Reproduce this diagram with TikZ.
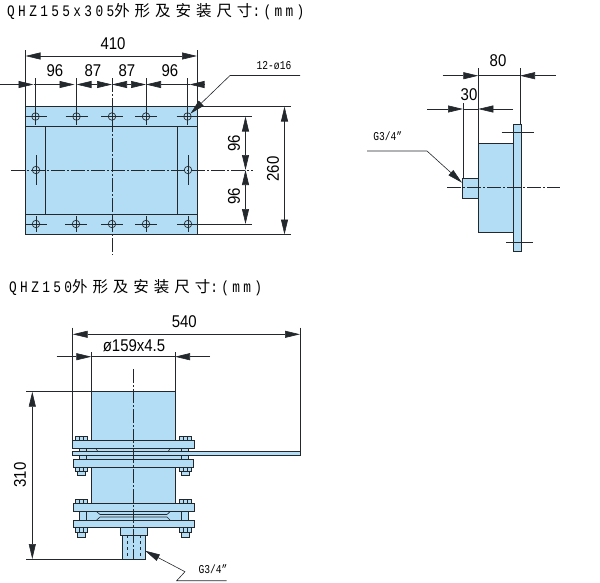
\documentclass[tikz,border=0pt]{standalone}
\usepackage{fontspec}
\setmainfont[FakeStretch=0.88]{Liberation Sans}
\newfontfamily\titlelatin[LetterSpace=21,FakeStretch=0.8]{Liberation Mono}
\newfontfamily\titlecjk[LetterSpace=32]{Noto Sans CJK SC}
\newfontfamily\smallmono[FakeStretch=0.8]{Liberation Mono}
\usetikzlibrary{arrows.meta}

\definecolor{bodyblue}{RGB}{179,221,245}
\definecolor{inkgray}{RGB}{35,40,45}

\tikzset{
  part/.style={draw=inkgray, fill=bodyblue, line width=.9pt},
  thin line/.style={draw=inkgray, line width=.6pt},
  center line/.style={draw=inkgray, line width=.6pt, dash pattern=on 14pt off 2pt on 2pt off 2pt},
  dim/.style={draw=inkgray, line width=.6pt, {Triangle[length=15pt,width=7pt]}-{Triangle[length=15pt,width=7pt]}},
  dim end/.style={draw=inkgray, line width=.6pt, -{Triangle[length=15pt,width=7pt]}},
  hole/.style={circle, draw=inkgray, line width=.7pt, minimum size=7.5pt, inner sep=0pt},
  size/.style={font=\fontsize{17}{17}\selectfont, text=black, inner sep=0pt},
  note/.style={font=\smallmono\fontsize{12}{12}\selectfont, text=black, inner sep=0pt},
  heading/.style={anchor=west, text=black, inner sep=0pt}
}

\newcommand{\headtext}[1]{\titlelatin\fontsize{16}{16}\selectfont #1\titlecjk\fontsize{15.5}{16}\selectfont 外形及安装尺寸\titlelatin\fontsize{16}{16}\selectfont:(mm)}

\begin{document}
\begin{tikzpicture}[x=1pt, y=-1pt]
  \useasboundingbox (0,0) rectangle (600,582);

  % headings
  \node[heading] (title1) at (7,12) {\headtext{QHZ155x305}};
  \node[heading] (title2) at (9,288) {\headtext{QHZ150}};

  % front view
  \draw[part] (25.5,106.5) rectangle (197.5,234.5);
  \draw[part, fill=none] (25.5,126) -- (197.5,126);
  \draw[part, fill=none] (25.5,214.5) -- (197.5,214.5);
  \draw[part, fill=none] (45,126) -- (45,214.5);
  \draw[part, fill=none] (177.5,126) -- (177.5,214.5);
  \draw[center line] (11,170) -- (253,170);
  \draw[center line] (112,78) -- (112,255);

  \begin{scope}[every node/.style={hole}]
    \node (h1)  at (35.5,116.5) {};
    \node (h2)  at (76.5,116.5) {};
    \node (h3)  at (112,116.5) {};
    \node (h4)  at (146,116.5) {};
    \node (h5)  at (187.5,116.5) {};
    \node (h6)  at (36,170) {};
    \node (h7)  at (188,170) {};
    \node (h8)  at (36,224) {};
    \node (h9)  at (76,224) {};
    \node (h10) at (112,224) {};
    \node (h11) at (146,224) {};
    \node (h12) at (188,224) {};
  \end{scope}
  \foreach \n in {h1,h2,h3,h4,h5,h8,h9,h10,h11,h12} {
    \draw[thin line] ([xshift=-11pt]\n.center) -- ([xshift=11pt]\n.center);
    \draw[thin line] ([yshift=8pt]\n.center) -- ([yshift=-8pt]\n.center);
  }
  \foreach \n in {h6,h7} {
    \draw[thin line] ([yshift=15pt]\n.center) -- ([yshift=-15pt]\n.center);
  }

  % front view, extension lines
  \draw[thin line] (25.5,50) -- (25.5,106.5);
  \draw[thin line] (197,50) -- (197,106.5);
  \draw[thin line] (h1.north) -- (35.5,78);
  \draw[thin line] (h2.north) -- (76.5,78);
  \draw[thin line] (h4.north) -- (146,78);
  \draw[thin line] (h5.north) -- (187.5,78);
  \draw[thin line] (197.5,106.5) -- (291,106.5);
  \draw[thin line] (197.5,234.5) -- (291,234.5);
  \draw[thin line] (h5.east) -- (252,116.5);
  \draw[thin line] (h12.east) -- (252,224);

  % front view, sizes
  \coordinate (a0) at (25.5,56);
  \coordinate (a1) at (197,56);
  \draw[dim] (a0) -- (a1);
  \coordinate (b0) at (0,84.5);
  \coordinate (b1) at (33.5,84.5);
  \coordinate (b2) at (74.5,84.5);
  \coordinate (b3) at (112,84.5);
  \coordinate (b4) at (146,84.5);
  \coordinate (b5) at (189.5,84.5);
  \coordinate (b6) at (205,84.5);
  \coordinate (b7) at (76.5,84.5);
  \draw[dim end] (b0) -- (b1);
  \draw[dim end] (b1) -- (b2);
  \draw[dim] (b7) -- (b3);
  \draw[dim] (b3) -- (b4);
  \draw[dim end] (b5) -- (b4);
  \draw[dim end] (b6) -- (b5);
  \coordinate (c0) at (245.5,116.5);
  \coordinate (c1) at (245.5,170);
  \coordinate (c2) at (245.5,224);
  \draw[dim] (c0) -- (c1);
  \draw[dim] (c1) -- (c2);
  \coordinate (d0) at (284.5,106.5);
  \coordinate (d1) at (284.5,234.5);
  \draw[dim] (d0) -- (d1);
  \coordinate (e0) at (300,75.5);
  \coordinate (e1) at (230,75.5);
  \draw[dim end] (e0) -- (e1) -- (h5);

  \begin{scope}[every node/.style={size}]
    \node (s410)  at (113,44) {410};
    \node (s96a)  at (55,71) {96};
    \node (s87a)  at (93,71) {87};
    \node (s87b)  at (127,71) {87};
    \node (s96b)  at (170,71) {96};
    \node[rotate=90] (s96c) at (234,143) {96};
    \node[rotate=90] (s96d) at (234,196) {96};
    \node[rotate=90] (s260) at (273,169) {260};
  \end{scope}
  \node[note] (hole note) at (274,66) {12-ø16};

  % side view
  \draw[part] (478.3,143.7) rectangle (513.7,232.3);
  \draw[part] (513.7,124) rectangle (521.7,251.7);
  \draw[part] (462.7,178.3) rectangle (478.3,198.3);
  \draw[center line] (447,187.7) -- (560,187.7);
  \draw[thin line] (501.7,132) -- (534,132);
  \draw[thin line] (506,242.7) -- (532.7,242.7);
  \draw[thin line] (478.3,68) -- (478.3,143.7);
  \draw[thin line] (520,68) -- (520,124);
  \draw[thin line] (463,103) -- (463,178.3);

  \coordinate (f0) at (442.7,75.7);
  \coordinate (f1) at (478.3,75.7);
  \coordinate (f2) at (520,75.7);
  \coordinate (f3) at (555.7,75.7);
  \draw[dim end] (f0) -- (f1);
  \draw[thin line] (f1) -- (f2);
  \draw[dim end] (f3) -- (f2);
  \coordinate (g0) at (427,109);
  \coordinate (g1) at (463,109);
  \coordinate (g2) at (478.3,109);
  \coordinate (g3) at (513,109);
  \draw[dim end] (g0) -- (g1);
  \draw[thin line] (g1) -- (g2);
  \draw[dim end] (g3) -- (g2);
  \coordinate (k0) at (367,151);
  \coordinate (k1) at (427,151);
  \coordinate (k2) at (462,182.7);
  \draw[dim end] (k0) -- (k1) -- (k2);

  \node[size] (s80) at (498,60.7) {80};
  \node[size] (s30) at (469,95) {30};
  \node[note] (thread side) at (387.7,136) {G3/4”};

  % lower view, bolts behind the flanges
  \foreach \x in {81.7,185} {
    \draw[part] (\x-6,436) rectangle (\x+6,440);
    \draw[part] (\x-6,467.7) rectangle (\x+6,471.7);
    \draw[part] (\x-4,471.7) rectangle (\x+4,475.5);
    \draw[part] (\x-6,499) rectangle (\x+6,503.3);
    \draw[part] (\x-6,527.7) rectangle (\x+6,532);
    \draw[part] (\x-4,532) rectangle (\x+4,537.5);
    \draw[thin line] (\x-2,436) -- (\x-2,440);
    \draw[thin line] (\x+2,436) -- (\x+2,440);
    \draw[thin line] (\x-2,467.7) -- (\x-2,471.7);
    \draw[thin line] (\x+2,467.7) -- (\x+2,471.7);
    \draw[thin line] (\x-2,499) -- (\x-2,503.3);
    \draw[thin line] (\x+2,499) -- (\x+2,503.3);
    \draw[thin line] (\x-2,527.7) -- (\x-2,532);
    \draw[thin line] (\x+2,527.7) -- (\x+2,532);
  }

  % lower view, body
  \draw[part] (91.3,391.7) rectangle (175.3,440);
  \draw[part] (91.7,467.7) rectangle (175,503.3);
  \draw[part] (79,448.7) rectangle (188,451.7);
  \draw[part] (79,455.3) rectangle (188,459.3);
  \draw[part] (79,511.7) rectangle (188,520);
  \draw[part] (72.7,440) rectangle (194,448.7);
  \draw[part] (72.7,451.7) rectangle (300,455.3);
  \draw[part] (73.3,459.3) rectangle (193.3,467.7);
  \draw[part] (73.3,503.3) rectangle (194,511.7);
  \draw[part] (73.3,520) rectangle (194,527.7);
  \draw[part] (120.7,527.7) rectangle (147.3,535);
  \draw[part] (122.3,535) rectangle (145,559);
  \draw[thin line] (96.7,511.7) -- (100,514.5) -- (167,514.5) -- (170,511.7);
  \draw[thin line] (96.7,520) -- (100,517) -- (167,517) -- (170,520);
  \draw[thin line] (96,448.7) -- (98,451.7);
  \draw[thin line] (170,448.7) -- (168,451.7);
  \foreach \x in {79,86,181,188} {
    \draw[thin line] (\x,511.7) -- (\x,520);
    \draw[thin line] (\x,448.7) -- (\x,451.7);
    \draw[thin line] (\x,455.3) -- (\x,459.3);
  }
  \draw[center line] (133.3,369) -- (133.3,559);
  \draw[thin line, dashed] (127,535) -- (127,559);
  \draw[thin line, dashed] (140,535) -- (140,559);

  % lower view, sizes
  \draw[thin line] (72.7,327.7) -- (72.7,440);
  \draw[thin line] (300,327.7) -- (300,451.7);
  \draw[thin line] (91.3,352) -- (91.3,391.7);
  \draw[thin line] (175,352) -- (175,391.7);
  \draw[thin line] (26,391.7) -- (91.3,391.7);
  \draw[part, fill=none] (26,559) -- (122.3,559);

  \coordinate (m0) at (72.7,334.3);
  \coordinate (m1) at (300,334.3);
  \draw[dim] (m0) -- (m1);
  \coordinate (n0) at (56.7,356.7);
  \coordinate (n1) at (91.3,356.7);
  \coordinate (n2) at (175,356.7);
  \coordinate (n3) at (210,356.7);
  \draw[dim end] (n0) -- (n1);
  \draw[thin line] (n1) -- (n2);
  \draw[dim end] (n3) -- (n2);
  \coordinate (p0) at (32.3,391.7);
  \coordinate (p1) at (32.3,559);
  \draw[dim] (p0) -- (p1);
  \coordinate (q0) at (226.7,580.7);
  \coordinate (q1) at (176.7,580.7);
  \coordinate (q2) at (185,571.7);
  \coordinate (q3) at (145,550.7);
  \draw[dim end] (q0) -- (q1) -- (q2) -- (q3);

  \node[size] (s540) at (184.3,321.7) {540};
  \node[size] (s159) at (134,345.7) {ø159x4.5};
  \node[size, rotate=90] (s310) at (20,475) {310};
  \node[note] (thread low) at (213,569) {G3/4”};

\end{tikzpicture}
\end{document}
